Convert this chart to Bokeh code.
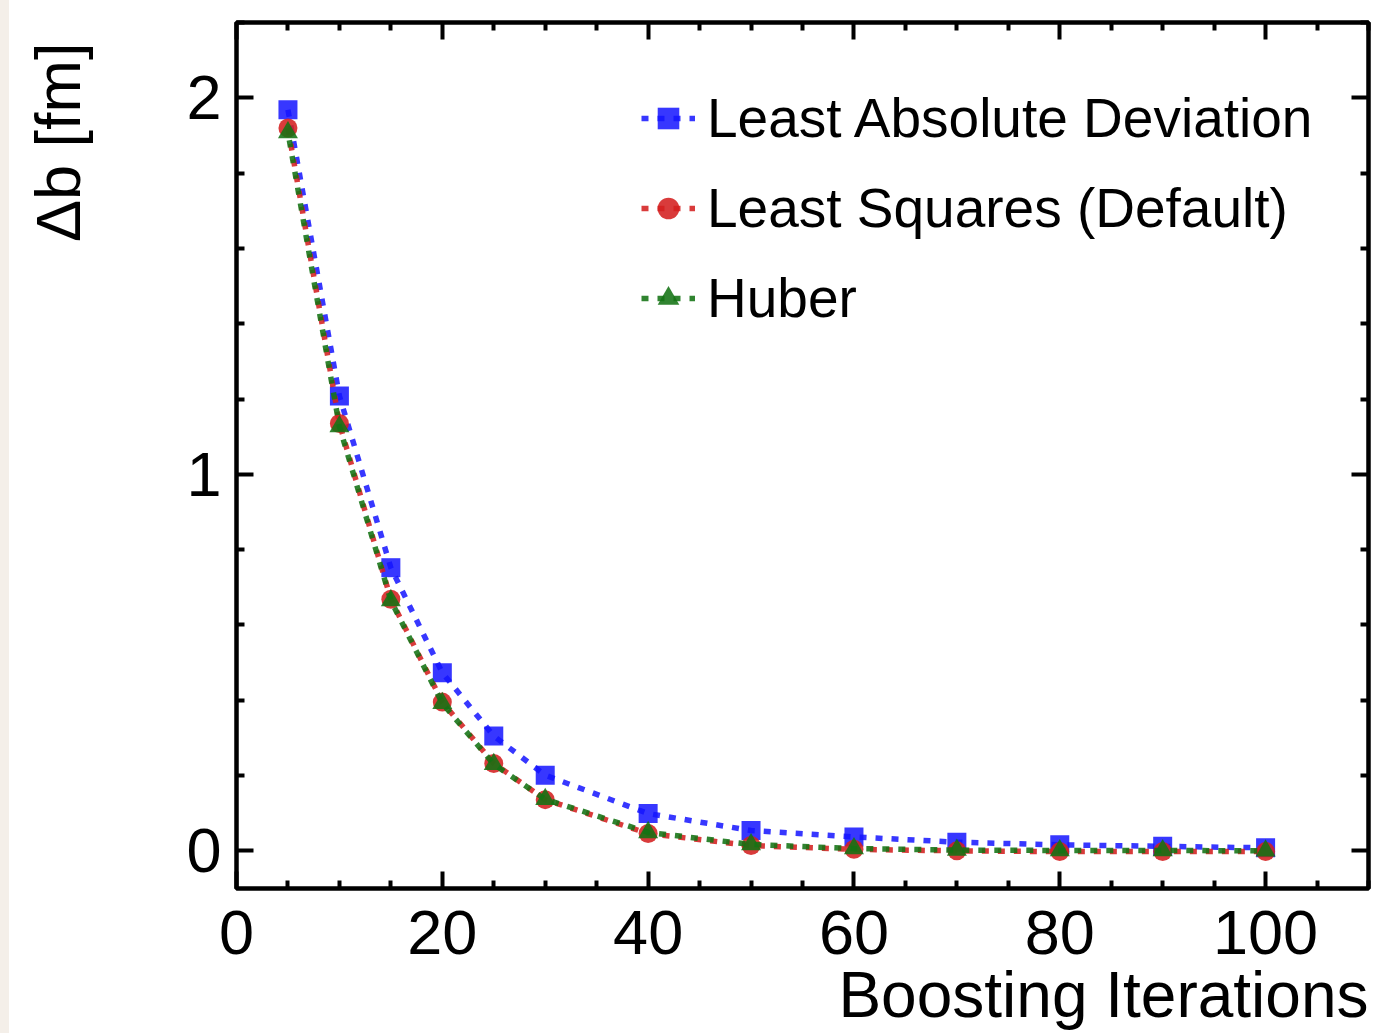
from bokeh.plotting import figure
from bokeh.models import (FixedTicker, LinearAxis, Legend, LegendItem,
                          Range1d, Spacer, Title)
from bokeh.layouts import row
from bokeh.embed import file_html
from bokeh.resources import INLINE

# Resolution of the impact parameter vs. number of boosting iterations
iterations = [5, 10, 15, 20, 25, 30, 40, 50, 60, 70, 80, 90, 100]
lad = [1.968, 1.208, 0.752, 0.473, 0.305, 0.201, 0.099, 0.054, 0.037, 0.023, 0.016, 0.012, 0.008]
least_squares = [1.920, 1.135, 0.668, 0.395, 0.232, 0.136, 0.046, 0.014, 0.004, 0.0, -0.002, -0.002, -0.002]
huber = [1.908, 1.127, 0.665, 0.392, 0.230, 0.137, 0.049, 0.017, 0.006, 0.002, 0.001, 0.001, 0.0]

series_names = ["Least Absolute Deviation", "Least Squares (Default)", "Huber"]

x_major = [0, 20, 40, 60, 80, 100]
x_minor = [5, 10, 15, 25, 30, 35, 45, 50, 55, 65, 70, 75, 85, 90, 95, 105, 110]
y_major = [0, 1, 2]
y_minor = [0.2, 0.4, 0.6, 0.8, 1.2, 1.4, 1.6, 1.8, 2.2]

FONT = "Liberation Sans"

p = figure(frame_width=1132, frame_height=866,
           x_range=Range1d(0, 110), y_range=Range1d(-0.1, 2.2),
           min_border_left=60, min_border_right=10,
           min_border_top=22, min_border_bottom=145,
           output_backend="svg", toolbar_location=None)
p.xgrid.visible = False
p.ygrid.visible = False
p.background_fill_color = "white"
p.border_fill_color = "white"
p.outline_line_color = "black"
p.outline_line_width = 4.5
p.outline_line_alpha = 1.0

p.add_layout(LinearAxis(), "above")
p.add_layout(LinearAxis(), "right")

for ax in p.xaxis:
    ax.ticker = FixedTicker(ticks=x_major, minor_ticks=x_minor)
for ax in p.yaxis:
    ax.ticker = FixedTicker(ticks=y_major, minor_ticks=y_minor)

for ax in p.axis:
    ax.axis_line_color = None
    ax.major_tick_in = 17
    ax.major_tick_out = 0
    ax.minor_tick_in = 8
    ax.minor_tick_out = 0
    ax.major_tick_line_width = 4
    ax.minor_tick_line_width = 4
    ax.major_tick_line_color = "black"
    ax.minor_tick_line_color = "black"
    ax.major_label_text_font = FONT
    ax.major_label_text_font_size = "63px"
    ax.major_label_text_color = "black"

p.below[0].major_label_standoff = 22
p.left[0].major_label_standoff = 15
# mirrored tick marks only on the top and right edges
for ax in (p.above[0], p.right[0]):
    ax.major_label_text_color = None
    ax.major_label_text_font_size = "1px"
    ax.major_label_standoff = 0

styles = [
    dict(color="#1414ff", marker="square", size=19, alpha=0.85, offset=0),
    dict(color="#d42020", marker="circle", size=19, alpha=0.88, offset=0),
    dict(color="#137313", marker="triangle", size=20, alpha=0.88, offset=8),
]

items = []
for name, ys, st in zip(series_names, [lad, least_squares, huber], styles):
    ln = p.line(iterations, ys, line_color=st["color"], line_width=5.5,
                line_alpha=st["alpha"], line_dash="7 9",
                line_dash_offset=st["offset"])
    mk = p.scatter(iterations, ys, marker=st["marker"], size=st["size"],
                   fill_color=st["color"], fill_alpha=st["alpha"],
                   line_color=None)
    if st["offset"]:
        # hidden twin so the legend swatch keeps the common dash phase
        ln = p.line(iterations, ys, line_color=st["color"], line_width=5.5,
                    line_alpha=st["alpha"], line_dash="7 9", visible=False)
    items.append(LegendItem(label=name, renderers=[ln, mk]))

legend = Legend(items=items, location=(405, 558),
                glyph_width=54, glyph_height=60, label_height=60,
                spacing=26, padding=0, margin=0, label_standoff=12,
                label_text_font=FONT, label_text_font_size="55px",
                label_text_color="black",
                border_line_color=None, background_fill_alpha=0)
p.add_layout(legend, "center")

p.add_layout(Title(text="Boosting Iterations", align="right",
                   text_font=FONT, text_font_size="64px",
                   text_font_style="normal", text_color="black",
                   standoff=0), "below")

# narrow blank panel left of the plot; its left title is the y axis title,
# pinned to the top edge
side = figure(width=167, height=1033, x_range=Range1d(0, 1), y_range=Range1d(0, 1),
              x_axis_location=None, y_axis_location=None,
              min_border=0, min_border_left=0, min_border_right=0,
              min_border_top=0, min_border_bottom=0,
              output_backend="svg", toolbar_location=None)
side.grid.visible = False
side.outline_line_color = None
side.background_fill_color = "white"
side.border_fill_color = "white"
side.add_layout(Title(text="Δb [fm]", align="right", offset=20,
                      standoff=22, text_font=FONT, text_font_size="63px",
                      text_font_style="normal", text_color="black"), "left")

strip = Spacer(width=9, height=1033, styles={"background-color": "#f4efe9"})
layout = row(strip, side, p)

open("out.html", "w").write(file_html(layout, INLINE))
